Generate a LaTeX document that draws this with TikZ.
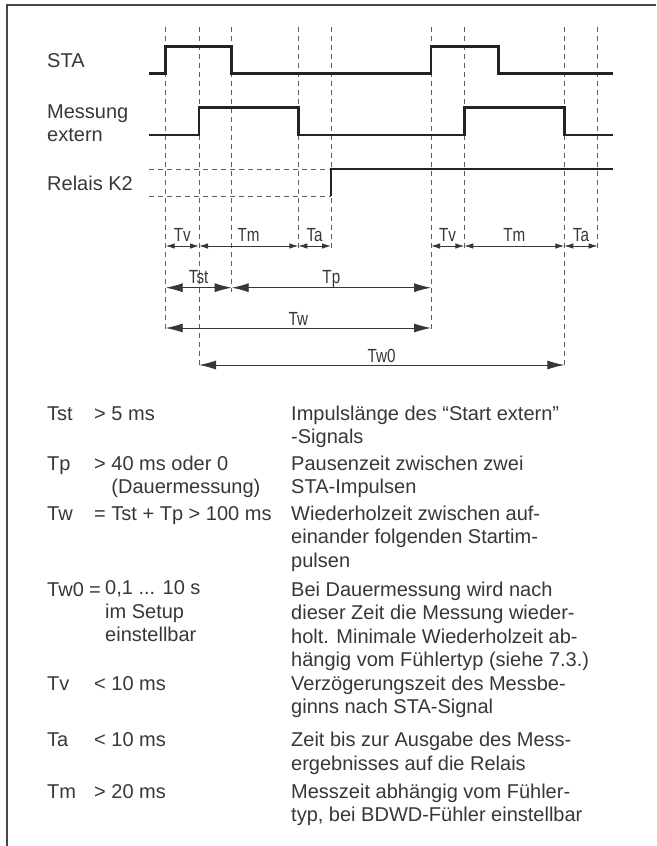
\documentclass[tikz,border=0pt]{standalone}
\usepackage{fontspec}
\setmainfont{Liberation Sans}
\newfontfamily\narrowfont[FakeStretch=0.8]{Liberation Sans}
\usetikzlibrary{arrows.meta}
\definecolor{inkgray}{RGB}{55, 55, 55}
\definecolor{signalgray}{RGB}{35, 35, 35}
\definecolor{gridgray}{RGB}{95, 95, 95}
\definecolor{framegray}{RGB}{70, 70, 70}

\begin{document}
\begin{tikzpicture}[x=1pt, y=-1pt,
    % base of a text block = baseline of its last line
    txt/.style={inner sep=0pt, anchor=base west, text=inkgray, align=left,
        font=\fontsize{20}{23.4}\selectfont},
    lbl/.style={inner sep=0pt, anchor=base, text=inkgray,
        font=\narrowfont\fontsize{19}{22}\selectfont},
    signal/.style={line width=2.6pt, signalgray},
    grid/.style={gridgray, line width=0.9pt, dash pattern=on 5pt off 4pt},
    dimsmall/.style={inkgray, line width=0.9pt,
        {Latex[length=9pt,width=5.5pt]}-{Latex[length=9pt,width=5.5pt]}},
    dimbig/.style={inkgray, line width=0.9pt,
        {Latex[length=17pt,width=9pt]}-{Latex[length=17pt,width=9pt]}}]

    \useasboundingbox (0,0) rectangle (656,846);

    % Frame
    \draw[framegray, line width=1.5pt] (7,846) -- (7,5) -- (656,5);

    % Time marks
    \foreach \name/\xx/\yy in {t1/165.7/332, t2/199/368, t3/231.7/292,
        t4/298.3/248, t5/331/248, t6/431/332, t7/464.3/248,
        t8/564.3/368, t9/597.7/248} {
        \coordinate (\name) at (\xx,27);
        \draw[grid] (\name) -- (\xx,\yy);
    }

    % Relais K2 levels
    \draw[grid] (149.3,169) -- (331,169);
    \draw[grid] (149.3,196) -- (331,196);

    % Signals
    \draw[signal] (149.3,73.3) -- (165.7,73.3) -- (165.7,46.7) -- (231.7,46.7)
        -- (231.7,73.3) -- (431,73.3) -- (431,46.7) -- (498.3,46.7)
        -- (498.3,73.3) -- (613,73.3);
    \draw[signal] (149.3,135) -- (199,135) -- (199,107.3) -- (298.3,107.3)
        -- (298.3,135) -- (464.3,135) -- (464.3,107.3) -- (564.3,107.3)
        -- (564.3,135) -- (613,135);
    \draw[signal] (331,196) -- (331,169) -- (613,169);

    % Signal names
    \node[txt] (sta) at (47,67.7) {STA};
    \node[txt] (mess) at (47,141.7) {Messung\\extern};
    \node[txt] (relais) at (47,190) {Relais K2};

    % Times
    \draw[dimsmall] (t1 |- 0,246) -- node[lbl, yshift=5pt] (tv1) {Tv} (t2 |- 0,246);
    \draw[dimsmall] (t2 |- 0,246) -- node[lbl, yshift=5pt] (tm1) {Tm} (t4 |- 0,246);
    \draw[dimsmall] (t4 |- 0,246) -- node[lbl, yshift=5pt] (ta1) {Ta} (t5 |- 0,246);
    \draw[dimsmall] (t6 |- 0,246) -- node[lbl, yshift=5pt] (tv2) {Tv} (t7 |- 0,246);
    \draw[dimsmall] (t7 |- 0,246) -- node[lbl, yshift=5pt] (tm2) {Tm} (t8 |- 0,246);
    \draw[dimsmall] (t8 |- 0,246) -- node[lbl, yshift=5pt] (ta2) {Ta} (t9 |- 0,246);
    \draw[dimbig] (t1 |- 0,287.7) -- node[lbl, yshift=4pt] (tst) {Tst} (t3 |- 0,287.7);
    \draw[dimbig] (t3 |- 0,287.7) -- node[lbl, yshift=4pt] (tp) {Tp} (t6 |- 0,287.7);
    \draw[dimbig] (t1 |- 0,328) -- node[lbl, yshift=3pt] (tw) {Tw} (t6 |- 0,328);
    \draw[dimbig] (t2 |- 0,365) -- node[lbl, yshift=3pt] (tw0) {Tw0} (t8 |- 0,365);

    % Table
    \node[txt] (tstname) at (47,420) {Tst};
    \node[txt] (tstval) at (94,420) {> 5 ms};
    \node[txt] (tstdesc) at (291,443.4) {Impulslänge des “Start extern”\\-Signals};

    \node[txt] (tpname) at (47,470.5) {Tp};
    \node[txt] (tpval) at (94,493.9) {> 40 ms oder 0\\\phantom{> }(Dauermessung)};
    \node[txt] (tpdesc) at (291,493.9) {Pausenzeit zwischen zwei\\STA-Impulsen};

    \node[txt] (twname) at (47,520.5) {Tw};
    \node[txt] (twval) at (94,520.5) {= Tst + Tp > 100 ms};
    \node[txt] (twdesc) at (291,567.3) {Wiederholzeit zwischen auf-\\einander folgenden Startim-\\pulsen};

    \node[txt] (twoname) at (47,596.5) {Tw0};
    \node[txt] (twoeq) at (89,596.5) {=};
    \node[txt] (twoval) at (105,641.5) {0,1 ... 10 s\\im Setup\\einstellbar};
    \node[txt] (twodesc) at (291,666.7) {Bei Dauermessung wird nach\\dieser Zeit die Messung wieder-\\holt. Minimale Wiederholzeit ab-\\hängig vom Fühlertyp (siehe 7.3.)};

    \node[txt] (tvname) at (47,690) {Tv};
    \node[txt] (tvval) at (94,690) {< 10 ms};
    \node[txt] (tvdesc) at (291,713.4) {Verzögerungszeit des Messbe-\\ginns nach STA-Signal};

    \node[txt] (taname) at (47,746.7) {Ta};
    \node[txt] (taval) at (94,746.7) {< 10 ms};
    \node[txt] (tadesc) at (291,770.1) {Zeit bis zur Ausgabe des Mess-\\ergebnisses auf die Relais};

    \node[txt] (tmname) at (47,798.5) {Tm};
    \node[txt] (tmval) at (94,798.5) {> 20 ms};
    \node[txt] (tmdesc) at (291,821.9) {Messzeit abhängig vom Fühler-\\typ, bei BDWD-Fühler einstellbar};
\end{tikzpicture}
\end{document}
